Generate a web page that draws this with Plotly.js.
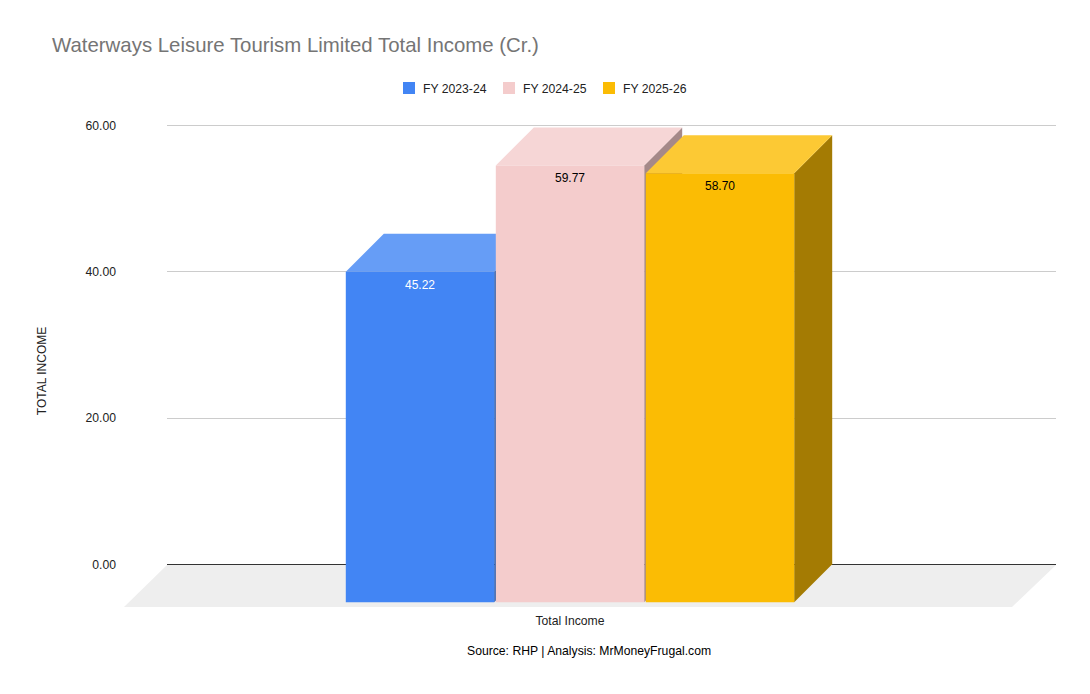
<!DOCTYPE html>
<html>
<head>
<meta charset="utf-8">
<script src="https://cdn.plot.ly/plotly-3.0.1.min.js"></script>
<style>html,body{margin:0;padding:0;background:#fff}</style>
</head>
<body>
<div id="chart" style="width:1090px;height:694px"></div>
<script>
const categories = ['Total Income'];
const seriesNames = ['FY 2023-24', 'FY 2024-25', 'FY 2025-26'];
const seriesValues = [45.22, 59.77, 58.70];
const yTicks = [0, 20, 40, 60];
const yTickLabels = ['0.00', '20.00', '40.00', '60.00'];
const frontColors = ['#4285f4', '#f4cccc', '#fbbc04'];
const topColors = ['#669df6', '#f6d6d6', '#fcc934'];
const sideColors = ['#2e5dab', '#a58989', '#a47b03'];
const labelColors = ['#ffffff', '#000000', '#000000'];

const W = 1090, H = 694;
const plot = {l: 167, r: 1056, t: 124, b: 618};
const zeroPx = 564.3, sixtyPx = 125.7, pxPerUnit = (zeroPx - sixtyPx) / 60, pxPerSlot = 150;
const depthPx = 38, depthX = depthPx / pxPerSlot, depthY = depthPx / pxPerUnit;
const barW = 148.4 / pxPerSlot;
const centerPx = 570;
const FONT = '"Liberation Sans", Arial, sans-serif';

const traces = seriesNames.map((name, i) => ({
  type: 'bar', name, x: [i - 1], y: [seriesValues[i]], base: -depthY, width: barW,
  marker: {color: frontColors[i], line: {width: 0}},
  hoverinfo: 'skip'
}));

// the depth faces sit behind the front bars, in the "between" layer
const shapes = [];
const poly = pts => 'M' + pts.map(p => p[0] + ',' + p[1]).join('L') + 'Z';
const paperX = px => (px - plot.l) / (plot.r - plot.l);
const paperY = px => (plot.b - px) / (plot.b - plot.t);
shapes.push({
  type: 'path', layer: 'below', xref: 'paper', yref: 'paper', line: {width: 0}, fillcolor: '#eeeeee',
  path: poly([[paperX(167), paperY(565)], [paperX(1056), paperY(565)], [paperX(1012), paperY(607)], [paperX(124), paperY(607)]])
});
seriesValues.forEach((v, i) => {
  const c = i - 1, L = c - barW / 2, R = c + barW / 2;
  shapes.push({
    type: 'path', layer: 'between', xref: 'x', yref: 'y', line: {width: 0}, fillcolor: sideColors[i],
    path: poly([[R, v - depthY], [R + depthX, v], [R + depthX, 0], [R, -depthY]])
  });
  shapes.push({
    type: 'path', layer: 'between', xref: 'x', yref: 'y', line: {width: 0}, fillcolor: topColors[i],
    path: poly([[L, v - depthY], [R, v - depthY], [R + depthX, v], [L + depthX, v]])
  });
});

const valueLabels = seriesValues.map((v, i) => ({
  text: v.toFixed(2), showarrow: false, xref: 'x', yref: 'y', x: i - 1 + 0.003, y: v - depthY,
  yanchor: 'middle', xanchor: 'center', yshift: -13,
  font: {family: FONT, size: 12, color: labelColors[i]}
}));

const layout = {
  width: W, height: H, autosize: false, showlegend: true,
  paper_bgcolor: '#fff', plot_bgcolor: 'rgba(0,0,0,0)',
  margin: {l: plot.l, r: W - plot.r, t: plot.t, b: H - plot.b, pad: 0},
  font: {family: FONT, size: 12, color: '#222222'},
  barmode: 'overlay',
  title: {text: 'Waterways Leisure Tourism Limited Total Income (Cr.)',
    font: {family: FONT, size: 20.4, color: '#757575'},
    x: 52 / W, xref: 'container', xanchor: 'left', y: 1 - 45 / H, yanchor: 'middle', yref: 'container'},
  legend: {orientation: 'h', x: 383 / W, xref: 'container', y: 1 - 88 / H, yref: 'container', xanchor: 'left', yanchor: 'middle',
    font: {family: FONT, size: 12.2, color: '#222222'}, entrywidth: 55, entrywidthmode: 'pixels', traceorder: 'normal'},
  xaxis: {
    type: 'linear', range: [(plot.l - centerPx) / pxPerSlot, (plot.r - centerPx) / pxPerSlot],
    tickmode: 'array', tickvals: [0], ticktext: categories, ticks: '', showgrid: false, zeroline: false, showline: false,
    tickfont: {family: FONT, size: 12.2, color: '#222222'}, ticklabelstandoff: -6
  },
  yaxis: {
    range: [(zeroPx - plot.b) / pxPerUnit, (zeroPx - plot.t) / pxPerUnit],
    tickmode: 'array', tickvals: yTicks, ticktext: yTickLabels, ticks: '',
    showgrid: true, gridcolor: '#cccccc', gridwidth: 1, zeroline: true, zerolinecolor: '#333333', zerolinewidth: 1, showline: false,
    tickfont: {family: FONT, size: 12.2, color: '#222222'}, ticklabelstandoff: 50,
    title: {text: 'TOTAL INCOME', font: {family: FONT, size: 12, color: '#222222'}, standoff: 36}
  },
  shapes,
  annotations: valueLabels.concat([{
    text: 'Source: RHP | Analysis: MrMoneyFrugal.com', showarrow: false,
    xref: 'paper', yref: 'paper', x: paperX(589), y: paperY(651), xanchor: 'center', yanchor: 'middle',
    font: {family: FONT, size: 12.2, color: '#000000'}
  }])
};
Plotly.newPlot('chart', traces, layout, {displayModeBar: false, staticPlot: true}).then(() => {
  // swatches sit closer to their text in the reference than the legend's fixed spacing allows
  document.querySelectorAll('.legendsymbols').forEach(n => n.setAttribute('transform', 'translate(6,0)'));
  // the tight entry width must not cut the last entry's text
  document.querySelectorAll('.legend .scrollbox').forEach(n => { n.removeAttribute('clip-path'); n.style.clipPath = 'none'; });
  document.querySelectorAll('.legend .traces').forEach(n => { n.removeAttribute('clip-path'); n.style.clipPath = 'none'; });
  document.querySelectorAll('.legend .legendtext').forEach(n => { n.removeAttribute('clip-path'); n.style.clipPath = 'none'; });
});
</script>
</body>
</html>
